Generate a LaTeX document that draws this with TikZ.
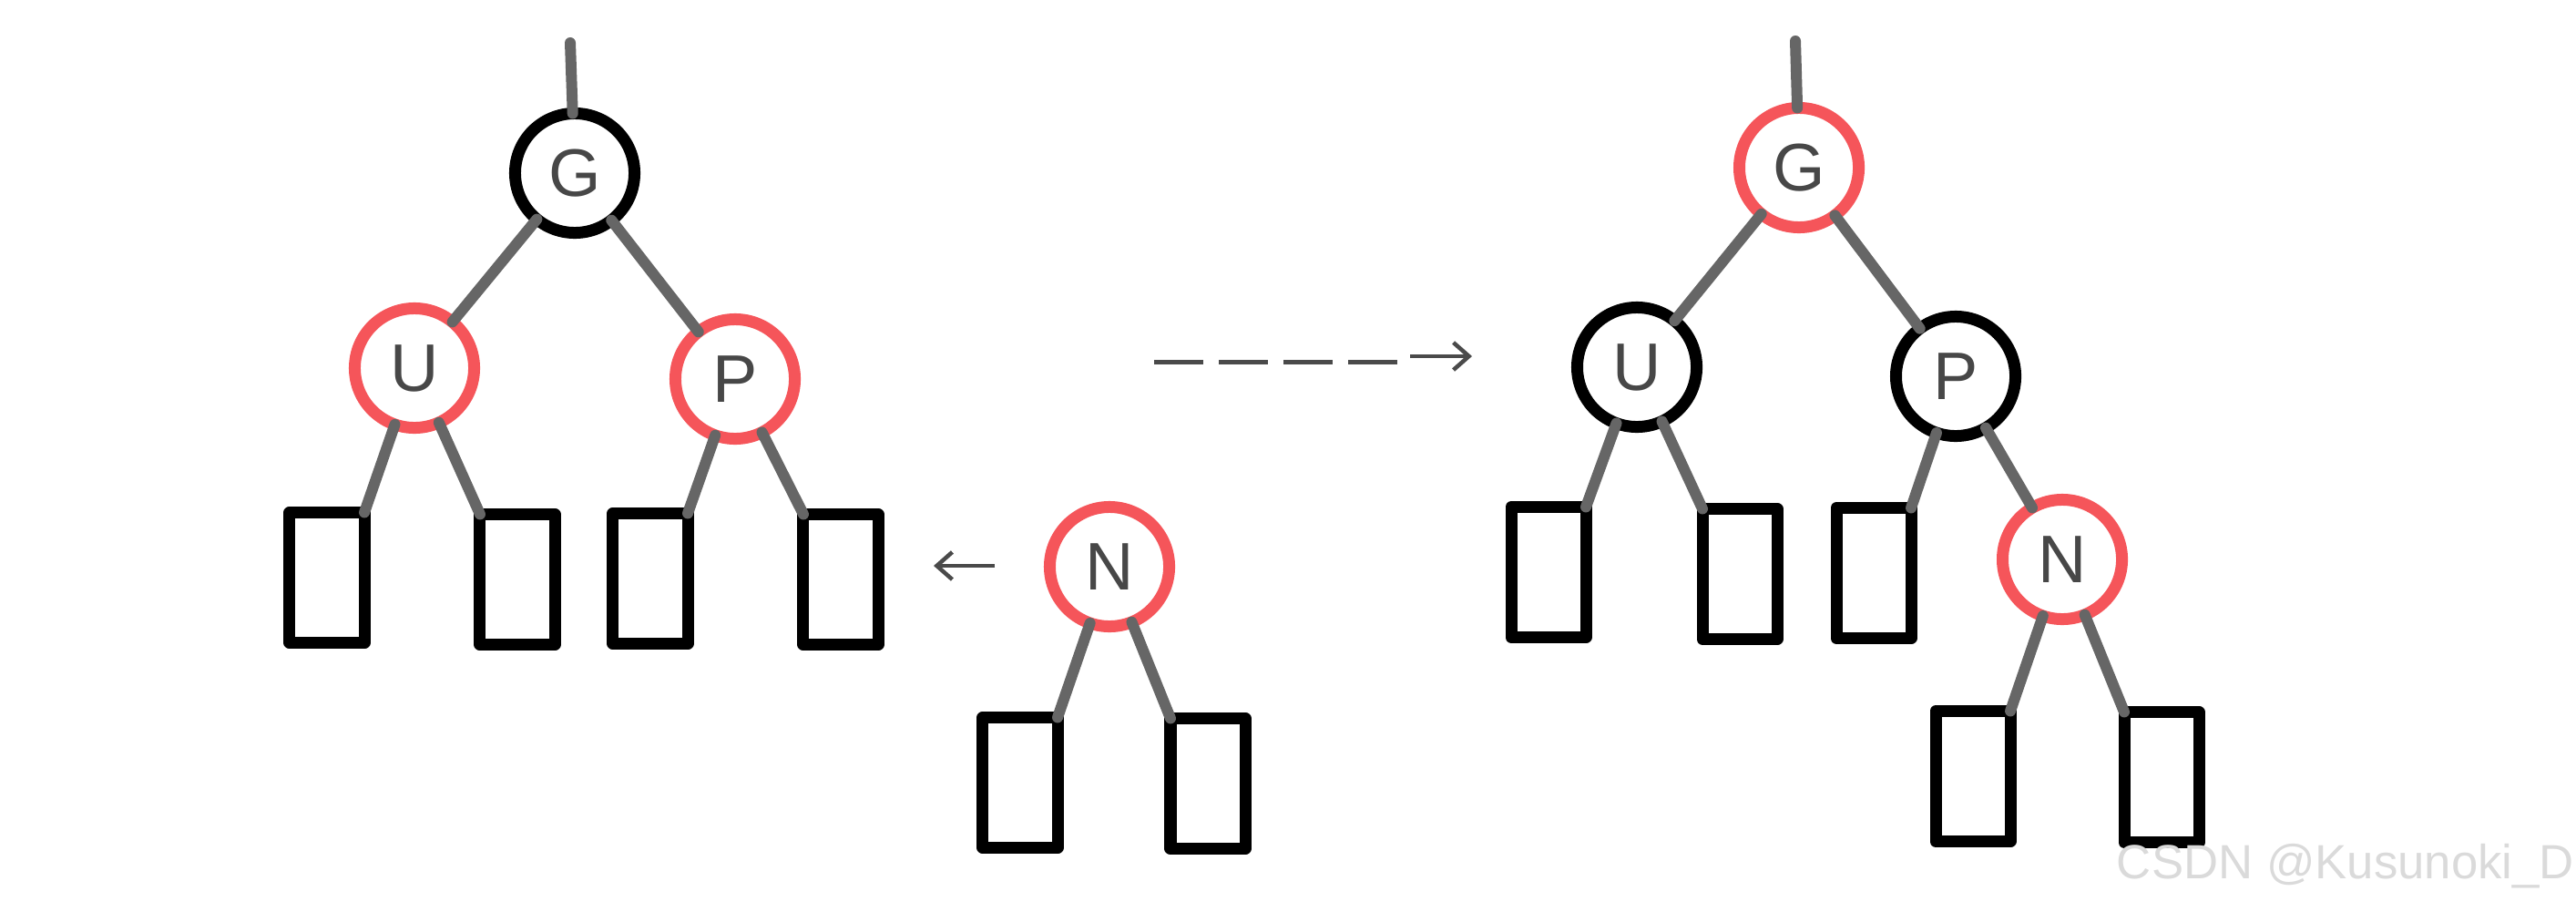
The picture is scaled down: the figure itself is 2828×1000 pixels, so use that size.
\documentclass[tikz,border=0pt]{standalone}
\usepackage{fontspec}
\setmainfont{Liberation Sans}
\usetikzlibrary{arrows.meta, positioning}
\definecolor{rbRed}{HTML}{F5555A}
\definecolor{rbEdge}{HTML}{666666}
\definecolor{rbText}{HTML}{474747}
\definecolor{rbArrow}{HTML}{4A4A4A}
\definecolor{rbMark}{HTML}{DADADA}
\tikzset{
  rednode/.style   = {circle, draw=rbRed, line width=0.13cm, fill=white,
                      minimum size=1.31cm, inner sep=0pt, outer sep=0pt,
                      text=rbText, font=\fontsize{21}{21}\selectfont},
  blacknode/.style = {rednode, draw=black},
  leaf/.style      = {rectangle, draw=black, line width=0.13cm,
                      minimum width=0.82cm, minimum height=1.43cm,
                      line join=round, inner sep=0pt, outer sep=0pt},
  edge/.style      = {rbEdge, line width=0.12cm, line cap=round},
  dashline/.style  = {rbArrow, line width=0.05cm,
                      dash pattern=on 0.54cm off 0.17cm},
  stepline/.style  = {rbArrow, line width=0.045cm,
                      -{Straight Barb[length=0.17cm, width=0.3cm]}},
  wmark/.style     = {text=rbMark, font=\fontsize{15}{15}\selectfont},
}

\begin{document}
\begin{tikzpicture}[x=0.01cm, y=-0.01cm]
  \useasboundingbox (0,0) rectangle (2828,1000);

  % before: G black, U and P red
  \node[blacknode] (G1) at (631,190) {G};
  \node[rednode]   (U1) at (455,404) {U};
  \node[rednode]   (P1) at (807,416) {P};
  \node[leaf] (l1) at (359,634) {};
  \node[leaf] (l2) at (568,636) {};
  \node[leaf] (l3) at (714,635) {};
  \node[leaf] (l4) at (923,636) {};
  \coordinate (t1) at (626,47);

  \draw[edge] (t1) -- (G1);
  \draw[edge] (G1) -- (U1);
  \draw[edge] (G1) -- (P1);
  \draw[edge] (U1) -- (l1.north east);
  \draw[edge] (U1) -- (l2.north west);
  \draw[edge] (P1) -- (l3.north east);
  \draw[edge] (P1) -- (l4.north west);

  % new node N
  \node[rednode] (N0) at (1218,622) {N};
  \node[leaf] (l5) at (1120,859) {};
  \node[leaf] (l6) at (1326,860) {};
  \draw[edge] (N0) -- (l5.north east);
  \draw[edge] (N0) -- (l6.north west);

  \coordinate (ins1) at (1092,621);
  \coordinate (ins2) at (1025,621);
  \draw[stepline] (ins1) -- (ins2);

  % recolouring step
  \coordinate (d1) at (1267,397);
  \coordinate (d2) at (1537,397);
  \coordinate (a1) at (1548,391);
  \coordinate (a2) at (1616,391);
  \draw[dashline] (d1) -- (d2);
  \draw[stepline] (a1) -- (a2);

  % after: G red, U and P black
  \node[rednode]   (G2) at (1975,184) {G};
  \node[blacknode] (U2) at (1797,403) {U};
  \node[blacknode] (P2) at (2147,413) {P};
  \node[rednode]   (N2) at (2264,614) {N};
  \node[leaf] (r1) at (1700,628) {};
  \node[leaf] (r2) at (1910,630) {};
  \node[leaf] (r3) at (2057,629) {};
  \node[leaf] (r4) at (2166,852) {};
  \node[leaf] (r5) at (2373,853) {};
  \coordinate (t2) at (1971,45);

  \draw[edge] (t2) -- (G2);
  \draw[edge] (G2) -- (U2);
  \draw[edge] (G2) -- (P2);
  \draw[edge] (U2) -- (r1.north east);
  \draw[edge] (U2) -- (r2.north west);
  \draw[edge] (P2) -- (r3.north east);
  \draw[edge] (P2) -- (N2);
  \draw[edge] (N2) -- (r4.north east);
  \draw[edge] (N2) -- (r5.north west);

  \node[wmark] (wm) at (2575,951) {CSDN @Kusunoki\_D};
\end{tikzpicture}
\end{document}
